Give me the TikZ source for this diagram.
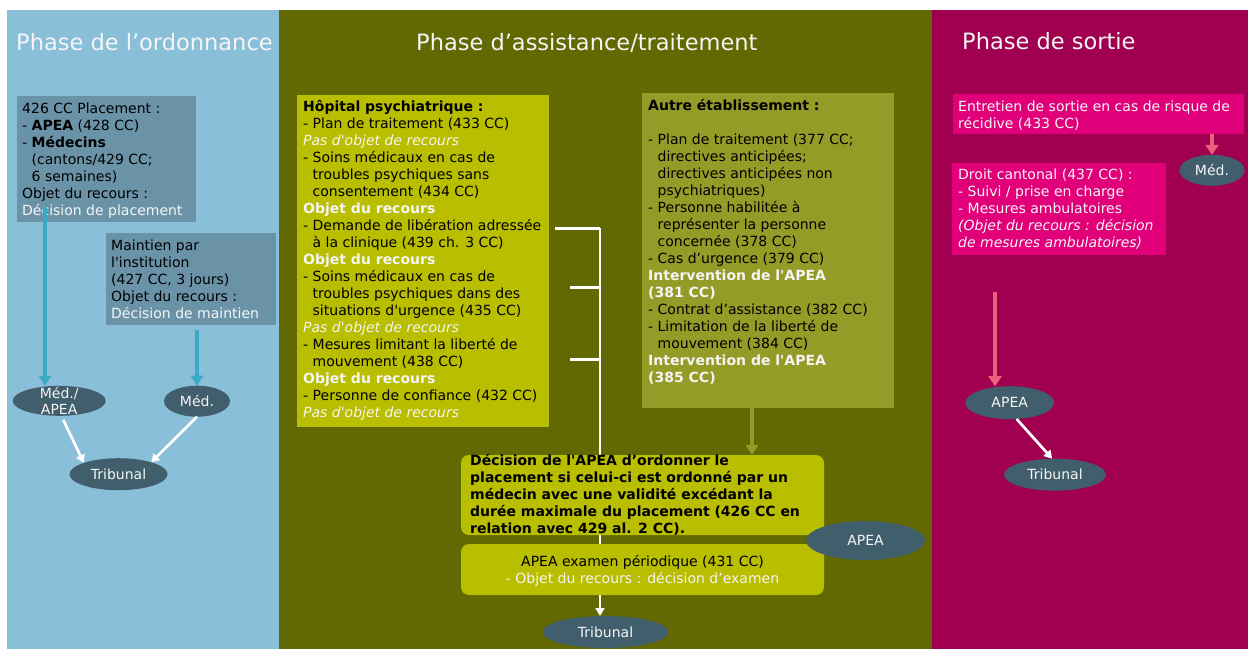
\documentclass[tikz,border=0pt]{standalone}
\usepackage{fontspec}
\setmainfont{DejaVu Sans}[Ligatures=TeXOff]
\usetikzlibrary{shapes.geometric,arrows.meta}
\definecolor{leftbg}{HTML}{89BFD9}
\definecolor{leftbox}{HTML}{6A93A8}
\definecolor{tealarr}{HTML}{38AAC5}
\definecolor{ellc}{HTML}{415E6C}
\definecolor{midbg}{HTML}{626903}
\definecolor{ybox}{HTML}{B9BE00}
\definecolor{obox}{HTML}{959B27}
\definecolor{rightbg}{HTML}{A0004F}
\definecolor{pbox}{HTML}{E2007A}
\definecolor{pinkarr}{HTML}{E9617C}
\definecolor{wtxt}{HTML}{F5F5F5}
\newcommand{\bodyfont}{\fontsize{14}{17}\selectfont}
\newcommand{\indx}{\hphantom{-\ }}
\newcommand{\whx}[1]{\textcolor{wtxt}{#1}}
\newcommand{\firstln}{\rule{0pt}{12pt}}
\begin{document}
\begin{tikzpicture}[x=1pt,y=-1pt,
  rbox/.style={rectangle, anchor=north west, inner sep=0pt, outer sep=0pt},
  rnd/.style={rbox, rounded corners=8pt},
  txt/.style={anchor=north west, inner sep=0pt, align=left, font=\bodyfont, text=black},
  ell/.style={ellipse, fill=ellc, inner sep=0pt, outer sep=0pt, text=wtxt, font=\bodyfont},
  ttl/.style={anchor=base west, inner sep=0pt, text=wtxt, font=\fontsize{22.5}{27}\selectfont},
  tarr/.style={draw=tealarr, line width=4pt, -{Triangle[width=12pt,length=10pt]}},
  oarr/.style={draw=obox, line width=4pt, -{Triangle[width=12pt,length=10pt]}},
  pkarr/.style={draw=pinkarr, line width=4.5pt, -{Triangle[width=13pt,length=10pt]}},
  warr/.style={draw=white, line width=2.7pt, -{Triangle[width=9pt,length=8pt]}},
  wline/.style={draw=white, line width=3pt}
]
\useasboundingbox (0,0) rectangle (1248,649);
\fill[white] (0,0) rectangle (1248,649);
% panels
\fill[leftbg] (7,10) rectangle (279,649);
\fill[midbg] (279,10) rectangle (932,649);
\fill[rightbg] (932,10) rectangle (1248,649);
% titles
\node[ttl] (t1) at (16,50) {Phase de l’ordonnance};
\node[ttl] (t2) at (416,50) {Phase d’assistance/traitement};
\node[ttl] (t3) at (962,49.5) {Phase de sortie};

% ---------- left panel ----------
\node[rbox, fill=leftbox, minimum width=179pt, minimum height=126pt] (b1) at (17,96) {};
\node[txt] (b1t) at ([shift={(5,5)}]b1.north west) {\firstln 426 CC Placement :\\
- \textbf{APEA} (428 CC)\\
- \textbf{Médecins}\\
\indx(cantons/429 CC;\\
\indx 6 semaines)\\
Objet du recours :\\
\whx{Décision de placement}};
\node[rbox, fill=leftbox, minimum width=170pt, minimum height=92pt] (b2) at (106,233) {};
\node[txt] (b2t) at ([shift={(5,5)}]b2.north west) {\firstln Maintien par\\
l'institution\\
(427 CC, 3 jours)\\
Objet du recours :\\
\whx{Décision de maintien}};

\node[ell, minimum width=93pt, minimum height=30pt] (medapea) at (59.2,400.8) {};
\node[inner sep=0pt, align=center, text=wtxt, font=\fontsize{14}{16}\selectfont] (medapeat) at (medapea.center) {Méd./\\APEA};
\node[ell, minimum width=66pt, minimum height=31pt] (med1) at (197,401.2) {Méd.};
\node[ell, minimum width=98pt, minimum height=32pt] (trib1) at (118.5,474.2) {Tribunal};

\coordinate (ta) at (45,207);
\draw[tarr] (ta) -- (ta |- medapea.north);
\coordinate (t2s) at ([shift={(0,5)}]b2.south);
\draw[tarr] (t2s -| med1.north) -- (med1.north);
\draw[warr] ([shift={(4,4)}]medapea.south) -- (trib1.north west);
\draw[warr] (med1.south) -- (trib1.20);

% ---------- middle panel ----------
\node[rbox, fill=ybox, minimum width=252pt, minimum height=332pt] (hosp) at (297,95) {};
\node[txt] (hospt) at ([shift={(6,4)}]hosp.north west) {\firstln\textbf{Hôpital psychiatrique :}\\
- Plan de traitement (433 CC)\\
\whx{\textit{Pas d'objet de recours}}\\
- Soins médicaux en cas de\\
\indx troubles psychiques sans\\
\indx consentement (434 CC)\\
\whx{\textbf{Objet du recours}}\\
- Demande de libération adressée\\
\indx à la clinique (439 ch. 3 CC)\\
\whx{\textbf{Objet du recours}}\\
- Soins médicaux en cas de\\
\indx troubles psychiques dans des\\
\indx situations d'urgence (435 CC)\\
\whx{\textit{Pas d'objet de recours}}\\
- Mesures limitant la liberté de\\
\indx mouvement (438 CC)\\
\whx{\textbf{Objet du recours}}\\
- Personne de confiance (432 CC)\\
\whx{\textit{Pas d'objet de recours}}};

\node[rbox, fill=obox, minimum width=252pt, minimum height=315pt] (autre) at (642,93) {};
\node[txt] (autret) at ([shift={(6,5)}]autre.north west) {\firstln\textbf{Autre établissement :}\\
\mbox{}\\
- Plan de traitement (377 CC;\\
\indx directives anticipées;\\
\indx directives anticipées non\\
\indx psychiatriques)\\
- Personne habilitée à\\
\indx représenter la personne\\
\indx concernée (378 CC)\\
- Cas d’urgence (379 CC)\\
\whx{\textbf{Intervention de l'APEA}}\\
\whx{\textbf{(381 CC)}}\\
- Contrat d’assistance (382 CC)\\
- Limitation de la liberté de\\
\indx mouvement (384 CC)\\
\whx{\textbf{Intervention de l'APEA}}\\
\whx{\textbf{(385 CC)}}};

\node[ell, minimum width=126pt, minimum height=32pt] (tribm) at (605.5,632) {Tribunal};

% bracket connector (behind the boxes)
\coordinate (br1) at (555,228);
\coordinate (brv) at (600,228);
\coordinate (br2) at (570,287);
\coordinate (br3) at (570,359);
\draw[wline] (br1) -- (brv);
\draw[wline] (br2) -- (br2 -| brv);
\draw[wline] (br3) -- (br3 -| brv);
\draw[warr] (brv) -- (brv |- tribm.north);

\node[rnd, fill=ybox, minimum width=363pt, minimum height=80pt] (dec) at (461,455) {};
\node[txt] (dect) at ([shift={(9,-2)}]dec.north west) {\firstln\textbf{Décision de l'APEA d’ordonner le}\\
\textbf{placement si celui-ci est ordonné par un}\\
\textbf{médecin avec une validité excédant la}\\
\textbf{durée maximale du placement (426 CC en}\\
\textbf{relation avec 429 al. 2 CC).}};

\node[rnd, fill=ybox, minimum width=363pt, minimum height=51pt] (exam) at (461,544) {};
\node[txt, anchor=north, align=center] (examt) at ([shift={(0,10.7)}]exam.north) {\firstln APEA examen périodique (431 CC)\\
\whx{- Objet du recours : décision d’examen}};

\node[ell, minimum width=119pt, minimum height=39pt] (apeam) at (865.5,540.5) {APEA};

\coordinate (oa) at (752,408);
\draw[oarr] (oa) -- (oa |- dec.north);

% ---------- right panel ----------
\node[rbox, fill=pbox, minimum width=291pt, minimum height=40pt] (entr) at (953,94) {};
\node[txt, text=wtxt] (entrt) at ([shift={(5,5)}]entr.north west) {\firstln Entretien de sortie en cas de risque de\\
récidive (433 CC)};
\node[rbox, fill=pbox, minimum width=214pt, minimum height=92pt] (droit) at (952,163) {};
\node[txt, text=wtxt] (droitt) at ([shift={(6,4)}]droit.north west) {\firstln Droit cantonal (437 CC) :\\
- Suivi / prise en charge\\
- Mesures ambulatoires\\
\textit{(Objet du recours : décision}\\
\textit{de mesures ambulatoires)}};

\node[ell, minimum width=65pt, minimum height=31pt] (medr) at (1212,170.3) {Méd.};
\node[ell, minimum width=89pt, minimum height=33pt] (apear) at (1009.7,402.7) {APEA};
\node[ell, minimum width=102pt, minimum height=32pt] (tribr) at (1055,474.7) {Tribunal};

\draw[pkarr] (entr.south -| medr.north) -- (medr.north);
\coordinate (pk) at (995,292);
\draw[pkarr] (pk) -- (pk |- apear.north);
\draw[warr] (apear.-67) -- (tribr.100);
\end{tikzpicture}
\end{document}
